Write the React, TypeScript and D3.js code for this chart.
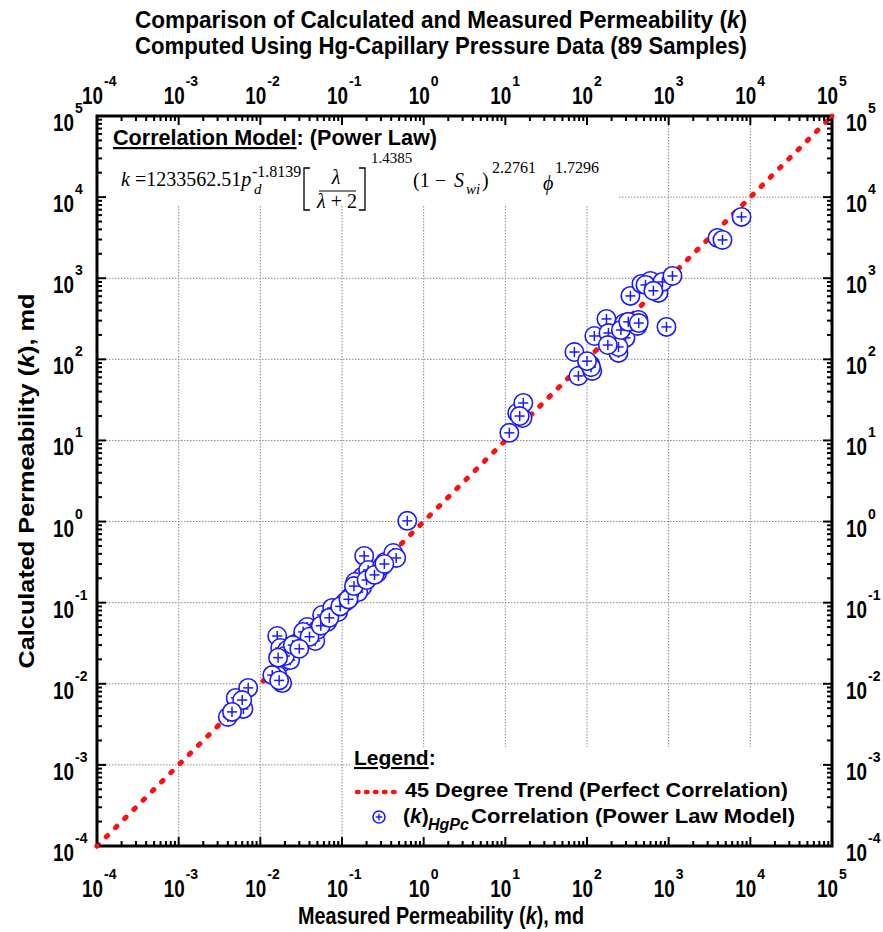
import React from 'react';
import * as d3 from 'd3';

// measured vs calculated permeability, md
const measured = [
  0.0040, 0.0050, 0.0062, 0.0071, 0.0060, 0.0045, 0.0161, 0.0175, 0.0190, 0.0161,
  0.0185, 0.0140, 0.0282, 0.047, 0.0375, 0.0571, 0.0897, 0.126, 0.177, 0.177,
  0.27, 0.338, 0.424, 0.461, 0.187, 0.63, 0.145, 0.0497, 0.0659, 0.109,
  0.158, 0.0232, 0.0213, 0.0335, 0.209, 0.311, 0.0759, 0.020, 0.025, 0.040,
  0.055, 0.070, 0.095, 0.120, 0.140, 0.200, 0.250, 0.017, 0.0165, 0.030,
  11.2, 16.2, 14.0, 16.6, 15.0,
  70.1, 78.5, 116, 110, 123, 173, 205, 236, 296, 243,
  287, 427, 415, 940, 340, 464, 598, 750, 839, 1113,
  520, 3963, 4562, 7800, 183, 243, 112, 180, 260, 320,
  650, 430, 100, 0.33,
];
const calculated = [
  0.0039, 0.0067, 0.0049, 0.0089, 0.0063, 0.0045, 0.0388, 0.0276, 0.0186, 0.0128,
  0.0102, 0.0128, 0.0318, 0.0337, 0.0501, 0.0705, 0.0767, 0.1175, 0.156, 0.208,
  0.232, 0.318, 0.41, 0.356, 0.377, 1.02, 0.18, 0.046, 0.0578, 0.102,
  0.135, 0.0196, 0.0261, 0.0436, 0.253, 0.284, 0.0861, 0.022, 0.030, 0.038,
  0.052, 0.065, 0.090, 0.110, 0.160, 0.190, 0.220, 0.011, 0.021, 0.027,
  12.4, 18.9, 21.8, 29.0, 20.0,
  123, 62.4, 71.9, 85.3, 194, 315, 159, 200, 184, 120,
  281, 306, 258, 251, 605, 851, 927, 659, 900, 1067,
  827, 3140, 2965, 5700, 211, 142, 80, 150, 230, 290,
  700, 280, 95, 0.30,
];

const exponents = [-4, -3, -2, -1, 0, 1, 2, 3, 4, 5];
const trend = [1e-4, 1e5];

const titleLines = [
  'Comparison of Calculated and Measured Permeability (',
  'Computed Using Hg-Capillary Pressure Data (89 Samples)',
];

const L = 97, R = 832, T = 116, B = 846;

const xScale = d3.scaleLog().domain([1e-4, 1e5]).range([L, R]);
const yScale = d3.scaleLog().domain([1e-4, 1e5]).range([B, T]);

const sans = "'Liberation Sans', Arial, sans-serif";
const serif = "'Liberation Serif', 'Times New Roman', serif";

const minors: number[] = [];
exponents.slice(0, -1).forEach((e) => {
  for (let m = 2; m <= 9; m++) minors.push(m * Math.pow(10, e));
});

const Marker = ({ cx, cy, r }: { cx: number; cy: number; r: number }) => (
  <g>
    <circle cx={cx} cy={cy} r={r} fill="white" stroke="#1a1aff" strokeWidth={1.6} />
    <line x1={cx - r * 0.55} x2={cx + r * 0.55} y1={cy} y2={cy} stroke="#1a1aff" strokeWidth={1.5} />
    <line x1={cx} x2={cx} y1={cy - r * 0.55} y2={cy + r * 0.55} stroke="#1a1aff" strokeWidth={1.5} />
  </g>
);

export default function App() {
  const line = d3.line<number>().x((d) => xScale(d)).y((d) => yScale(d));
  return (
    <svg width={883} height={932} style={{ position: 'absolute', left: 0, top: 0 }}>
      <rect x={0} y={0} width={883} height={932} fill="white" />
      {/* title */}
      <text x={441} y={28} textAnchor="middle" fontFamily={sans} fontWeight="bold" fontSize={23}
        textLength={612} lengthAdjust="spacingAndGlyphs">
        {titleLines[0]}<tspan fontStyle="italic">k</tspan>)
      </text>
      <text x={441} y={54} textAnchor="middle" fontFamily={sans} fontWeight="bold" fontSize={23}
        textLength={612} lengthAdjust="spacingAndGlyphs">
        {titleLines[1]}
      </text>

      {/* grid */}
      {exponents.slice(1, -1).map((e) => (
        <g key={'g' + e}>
          <line x1={xScale(10 ** e)} x2={xScale(10 ** e)} y1={T} y2={B} stroke="#888" strokeWidth={1} strokeDasharray="1.5 1.5" />
          <line x1={L} x2={R} y1={yScale(10 ** e)} y2={yScale(10 ** e)} stroke="#888" strokeWidth={1} strokeDasharray="1.5 1.5" />
        </g>
      ))}
      {/* white panels for the equation and legend */}
      <rect x={L} y={T} width={521} height={89} fill="white" />
      <rect x={350} y={747} width={470} height={B - 747} fill="white" />

      {/* 45 degree trend */}
      <path d={line(trend) || ''} stroke="#ff1010" strokeWidth={5} strokeDasharray="2 11" strokeLinecap="round" fill="none" />

      {/* data */}
      {measured.map((m, i) => (
        <Marker key={i} cx={xScale(m)} cy={yScale(calculated[i])} r={9.2} />
      ))}

      {/* frame and ticks */}
      <rect x={L} y={T} width={R - L} height={B - T} fill="none" stroke="black" strokeWidth={3} />
      {exponents.map((e) => {
        const x = xScale(10 ** e), y = yScale(10 ** e);
        return (
          <g key={'t' + e} stroke="black" strokeWidth={2}>
            <line x1={x} x2={x} y1={B} y2={B - 9} />
            <line x1={x} x2={x} y1={T} y2={T + 9} />
            <line x1={L} x2={L + 9} y1={y} y2={y} />
            <line x1={R} x2={R - 9} y1={y} y2={y} />
          </g>
        );
      })}
      {minors.map((v, i) => {
        const x = xScale(v), y = yScale(v);
        return (
          <g key={'m' + i} stroke="black" strokeWidth={2}>
            <line x1={x} x2={x} y1={B} y2={B - 5} />
            <line x1={x} x2={x} y1={T} y2={T + 5} />
            <line x1={L} x2={L + 5} y1={y} y2={y} />
            <line x1={R} x2={R - 5} y1={y} y2={y} />
          </g>
        );
      })}
      {/* red corner dots at both ends of the trend */}
      <circle cx={xScale(trend[0])} cy={yScale(trend[0])} r={2.5} fill="#ff1010" />
      <circle cx={xScale(trend[1])} cy={yScale(trend[1])} r={2.5} fill="#ff1010" />

      {/* tick labels */}
      <g fontFamily={sans} fontWeight="bold">
        {exponents.map((e) => {
          const x = xScale(10 ** e), y = yScale(10 ** e);
          const ex = String(e);
          const ten = { fontSize: 24, textLength: 21, lengthAdjust: 'spacingAndGlyphs' } as any;
          return (
            <g key={'l' + e}>
              <text x={x - 15} y={897} {...ten}>10</text>
              <text x={x + 7} y={879} fontSize={14}>{ex}</text>
              <text x={x - 15} y={104} {...ten}>10</text>
              <text x={x + 7} y={86} fontSize={14}>{ex}</text>
              <text x={53} y={y + 15} {...ten}>10</text>
              <text x={75} y={y - 3} fontSize={14}>{ex}</text>
              <text x={846} y={y + 15} {...ten}>10</text>
              <text x={868} y={y - 3} fontSize={14}>{ex}</text>
            </g>
          );
        })}
      </g>

      {/* axis titles */}
      <text x={441} y={924} textAnchor="middle" fontFamily={sans} fontWeight="bold" fontSize={24}
        textLength={286} lengthAdjust="spacingAndGlyphs">
        Measured Permeability (<tspan fontStyle="italic">k</tspan>), md
      </text>
      <text transform={`translate(34, ${(T + B) / 2}) rotate(-90)`} textAnchor="middle" fontFamily={sans} fontWeight="bold" fontSize={22}
        textLength={375} lengthAdjust="spacingAndGlyphs">
        Calculated Permeability (<tspan fontStyle="italic">k</tspan>), md
      </text>

      {/* correlation model */}
      <text x={113} y={145} fontFamily={sans} fontWeight="bold" fontSize={22} textLength={324} lengthAdjust="spacingAndGlyphs">
        <tspan textDecoration="underline">Correlation Model</tspan>: (Power Law)
      </text>
      <g fontFamily={serif} fontSize={20}>
        <text x={121} y={186}><tspan fontStyle="italic">k</tspan> =1233562.51<tspan fontStyle="italic">p</tspan></text>
        <text x={254} y={194} fontSize={15} fontStyle="italic">d</text>
        <text x={252} y={177} fontSize={16}>-1.8139</text>
        <path d="M310,168 L304,168 L304,210 L310,210" fill="none" stroke="black" strokeWidth={1.3} />
        <text x={336} y={184} textAnchor="middle" fontStyle="italic">λ</text>
        <line x1={319} x2={356} y1={191} y2={191} stroke="black" strokeWidth={1.2} />
        <text x={337} y={208} textAnchor="middle"><tspan fontStyle="italic">λ</tspan> + 2</text>
        <path d="M359,168 L365,168 L365,210 L359,210" fill="none" stroke="black" strokeWidth={1.3} />
        <text x={371} y={163} fontSize={15}>1.4385</text>
        <text x={413} y={187}>(1 −</text>
        <text x={454} y={187} fontStyle="italic">S</text>
        <text x={466} y={194} fontSize={15} fontStyle="italic">wi</text>
        <text x={482} y={187}>)</text>
        <text x={492} y={173} fontSize={16}>2.2761</text>
        <text x={543} y={190} fontStyle="italic">ϕ</text>
        <text x={555} y={173} fontSize={16}>1.7296</text>
      </g>

      {/* legend */}
      <g fontFamily={sans} fontWeight="bold" fontSize={21}>
        <text x={354} y={765}><tspan textDecoration="underline">Legend</tspan>:</text>
        <line x1={357} x2={398} y1={792} y2={792} stroke="#ff1010" strokeWidth={4.5} strokeDasharray="1.5 7.5" strokeLinecap="round" />
        <text x={405} y={797} textLength={383} lengthAdjust="spacingAndGlyphs">45 Degree Trend (Perfect Correlation)</text>
        <Marker cx={379} cy={817} r={6} />
        <text x={403} y={823}>(<tspan fontStyle="italic">k</tspan>)</text>
        <text x={428} y={830} fontStyle="italic" fontSize={16}>HgPc</text>
        <text x={471} y={823} textLength={324} lengthAdjust="spacingAndGlyphs">Correlation (Power Law Model)</text>
      </g>
    </svg>
  );
}
